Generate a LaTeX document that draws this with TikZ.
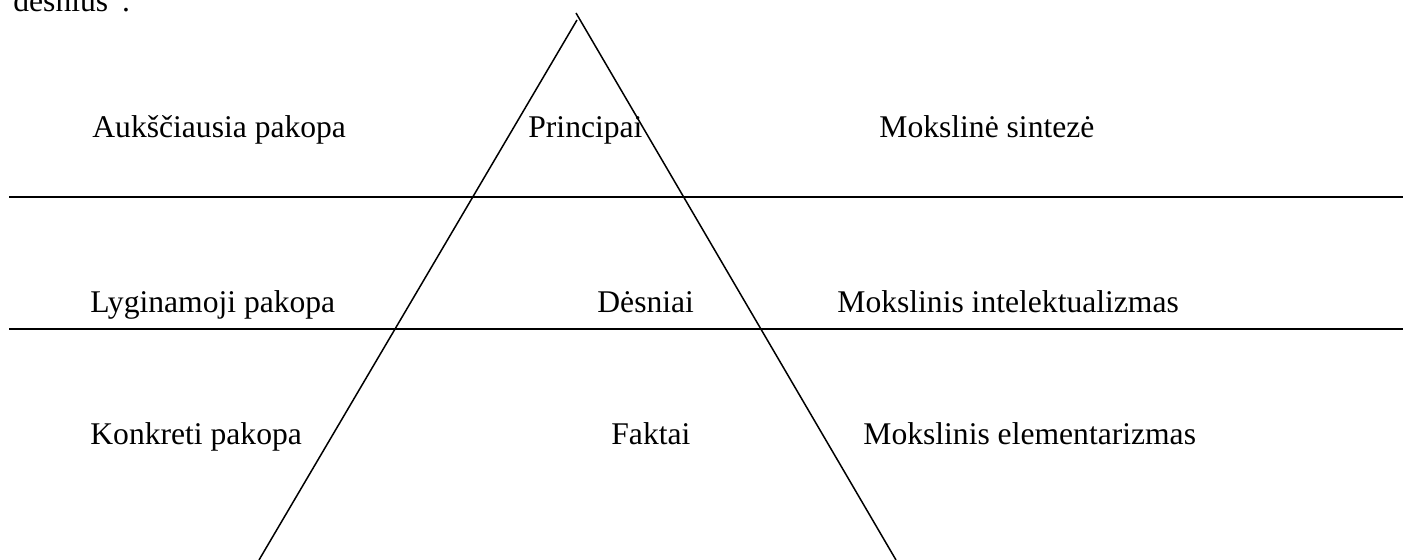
\documentclass[tikz,border=0pt]{standalone}
\usepackage{fontspec}
\setmainfont{Liberation Serif}
\begin{document}
\begin{tikzpicture}[x=0.5pt,y=-0.5pt,
  lbl/.style={anchor=base west,inner sep=0pt,font=\fontsize{15.8pt}{19pt}\selectfont},
  hline/.style={line width=1pt},
  tline/.style={line width=0.75pt}]
\useasboundingbox (0,0) rectangle (1403,560);
% top-left cut-off text (cut off in the reference too)
\node[lbl] (top) at (13,12) {dėsnius”.};
% triangle corners
\coordinate (apexL) at (577,20);
\coordinate (apexR) at (576,13);
\coordinate (baseL) at (259,560);
\coordinate (baseR) at (896,560);
\draw[tline] (apexL) -- (baseL);
\draw[tline] (apexR) -- (baseR);
% horizontal separators
\coordinate (h1a) at (9,197);
\coordinate (h1b) at (1403,197);
\coordinate (h2a) at (9,329);
\coordinate (h2b) at (1403,329);
\draw[hline] (h1a) -- (h1b);
\draw[hline] (h2a) -- (h2b);
% labels
\node[lbl] (a1) at (92,138) {Aukščiausia pakopa};
\node[lbl] (a2) at (528,138) {Principai};
\node[lbl] (a3) at (879,138) {Mokslinė sintezė};
\node[lbl] (b1) at (90,313) {Lyginamoji pakopa};
\node[lbl] (b2) at (597,313) {Dėsniai};
\node[lbl] (b3) at (837,313) {Mokslinis intelektualizmas};
\node[lbl] (c1) at (90,445) {Konkreti pakopa};
\node[lbl] (c2) at (611,445) {Faktai};
\node[lbl] (c3) at (863,445) {Mokslinis elementarizmas};
\end{tikzpicture}
\end{document}
